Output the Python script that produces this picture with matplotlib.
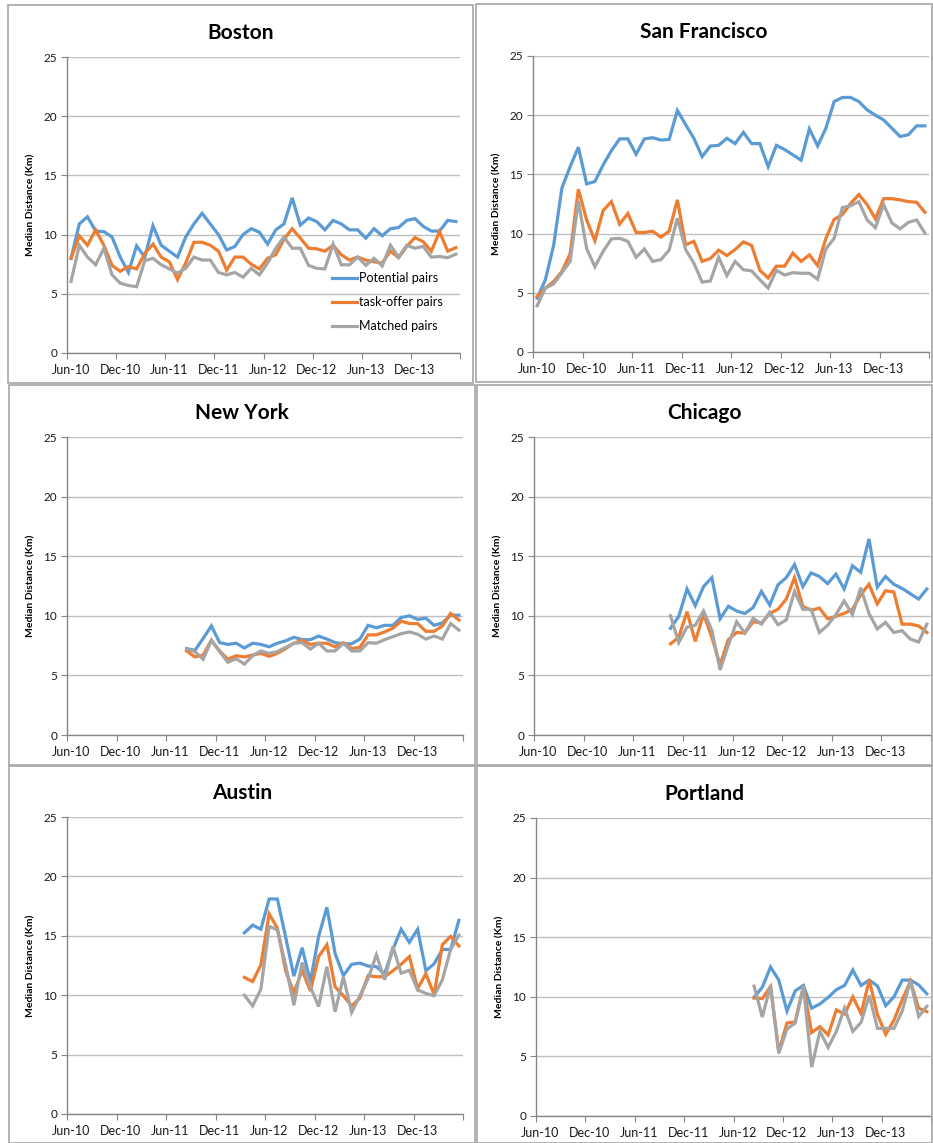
import numpy as np
import matplotlib
matplotlib.use('Agg')
import matplotlib.pyplot as plt
from matplotlib.patches import Rectangle

plt.rcParams['font.family'] = ['Lato', 'DejaVu Sans']

# months Jun-10 .. May-14, one slot per month
n_months = 48
tick_labels = ['Jun-10', 'Dec-10', 'Jun-11', 'Dec-11', 'Jun-12', 'Dec-12', 'Jun-13', 'Dec-13']
series_names = ['Potential pairs', 'task-offer pairs', 'Matched pairs']
colors = ['#5B9BD5', '#ED7D31', '#A5A5A5']

boston_start = 0
boston_potential = [8.0, 10.9, 11.5, 10.3, 10.25, 9.8, 8.1, 6.8, 9.05, 8.1, 10.75, 9.1, 8.6, 8.1, 9.8, 10.9,
                    11.8, 10.9, 10.0, 8.7, 9.0, 10.0, 10.5, 10.2, 9.2, 10.4, 10.9, 13.1, 10.8, 11.4, 11.1, 10.4,
                    11.2, 10.9, 10.4, 10.4, 9.7, 10.5, 9.9, 10.5, 10.6, 11.2, 11.35, 10.7, 10.3, 10.3, 11.2, 11.1]
boston_taskoffer = [8.0, 9.9, 9.1, 10.4, 9.1, 7.4, 6.9, 7.3, 7.1, 8.4, 9.2, 8.1, 7.7, 6.2, 7.6, 9.35,
                    9.35, 9.1, 8.6, 7.0, 8.1, 8.1, 7.5, 7.1, 8.0, 8.3, 9.6, 10.5, 9.7, 8.85, 8.8, 8.6,
                    9.1, 8.3, 7.85, 8.1, 7.85, 7.7, 7.6, 8.6, 8.05, 9.0, 9.75, 9.4, 8.6, 10.25, 8.6, 8.9]
boston_matched = [6.05, 9.1, 8.1, 7.45, 8.85, 6.6, 5.9, 5.7, 5.6, 7.8, 8.0, 7.45, 7.1, 6.75, 7.15, 8.1,
                  7.85, 7.85, 6.8, 6.6, 6.8, 6.4, 7.15, 6.6, 7.6, 8.85, 9.8, 8.85, 8.85, 7.4, 7.15, 7.1,
                  9.2, 7.45, 7.45, 8.1, 7.4, 8.0, 7.35, 9.1, 8.1, 9.1, 8.85, 9.0, 8.1, 8.15, 8.05, 8.35]

sf_start = 0
sf_potential = [4.55, 6.1, 9.0, 13.85, 15.65, 17.3, 14.2, 14.4, 15.8, 17.0, 18.0, 18.0, 16.7, 18.0, 18.1, 17.9,
                17.95, 20.4, 19.2, 18.05, 16.5, 17.4, 17.45, 18.05, 17.6, 18.55, 17.6, 17.6, 15.65, 17.45, 17.1, 16.65,
                16.2, 18.85, 17.4, 18.9, 21.15, 21.5, 21.5, 21.15, 20.45, 20.0, 19.6, 18.9, 18.2, 18.35, 19.1, 19.1]
sf_taskoffer = [4.7, 5.4, 5.95, 6.8, 8.3, 13.75, 11.15, 9.4, 11.95, 12.7, 10.8, 11.7, 10.1, 10.1, 10.2, 9.7,
                10.2, 12.85, 9.05, 9.35, 7.65, 7.9, 8.6, 8.15, 8.65, 9.3, 9.0, 6.9, 6.25, 7.25, 7.25, 8.35,
                7.65, 8.2, 7.3, 9.6, 11.2, 11.6, 12.55, 13.3, 12.45, 11.25, 12.95, 12.95, 12.85, 12.7, 12.65, 11.8]
sf_matched = [3.9, 5.4, 5.75, 6.7, 7.65, 12.75, 8.75, 7.2, 8.5, 9.55, 9.6, 9.35, 8.0, 8.7, 7.65, 7.8,
              8.6, 11.3, 8.65, 7.5, 5.9, 6.0, 8.0, 6.45, 7.65, 6.95, 6.85, 6.1, 5.4, 6.9, 6.5, 6.7,
              6.65, 6.65, 6.15, 8.7, 9.6, 12.2, 12.35, 12.7, 11.15, 10.5, 12.45, 10.9, 10.4, 10.95, 11.15, 10.05]

ny_start = 14
ny_potential = [7.25, 7.1, 8.1, 9.15, 7.75, 7.6, 7.7, 7.3, 7.7, 7.6, 7.4, 7.7, 7.9, 8.2, 8.0, 8.0, 8.3,
                8.05, 7.75, 7.65, 7.65, 8.05, 9.2, 9.0, 9.2, 9.2, 9.85, 10.0, 9.7, 9.8, 9.2, 9.4, 10.05, 10.05]
ny_taskoffer = [7.05, 6.55, 6.7, 7.95, 7.05, 6.35, 6.65, 6.55, 6.7, 6.85, 6.6, 6.85, 7.25, 7.7, 7.95, 7.6, 7.7,
                7.7, 7.4, 7.75, 7.25, 7.35, 8.4, 8.4, 8.65, 8.95, 9.55, 9.35, 9.35, 8.7, 8.7, 9.15, 10.2, 9.65]
ny_matched = [7.2, 7.0, 6.35, 7.95, 7.0, 6.1, 6.4, 5.95, 6.65, 7.05, 6.85, 7.0, 7.35, 7.7, 7.75, 7.2, 7.7,
              7.05, 7.05, 7.7, 7.05, 7.05, 7.75, 7.7, 8.0, 8.25, 8.5, 8.65, 8.45, 8.05, 8.3, 8.05, 9.35, 8.8]

chicago_start = 16
chicago_potential = [8.95, 9.95, 12.25, 10.85, 12.45, 13.2, 9.75, 10.8, 10.4, 10.2, 10.7, 12.05, 10.9, 12.6, 13.2, 14.3,
                     12.45, 13.6, 13.3, 12.7, 13.5, 12.25, 14.2, 13.65, 16.45, 12.4, 13.3, 12.65, 12.3, 11.85, 11.4, 12.25]
chicago_taskoffer = [7.65, 8.2, 10.35, 7.85, 10.15, 8.2, 5.9, 8.0, 8.6, 8.55, 9.5, 9.4, 10.2, 10.55, 11.4, 13.2,
                     10.8, 10.45, 10.65, 9.75, 9.95, 10.2, 10.55, 11.75, 12.65, 11.0, 12.1, 12.0, 9.3, 9.3, 9.15, 8.6]
chicago_matched = [10.0, 7.75, 9.05, 9.2, 10.4, 8.8, 5.45, 7.55, 9.5, 8.55, 9.8, 9.3, 10.3, 9.25, 9.65, 12.05,
                   10.55, 10.55, 8.6, 9.2, 10.1, 11.25, 10.1, 12.35, 10.2, 8.9, 9.45, 8.6, 8.75, 8.05, 7.8, 9.3]

austin_start = 21
austin_potential = [15.25, 15.9, 15.55, 18.1, 18.1, 14.9, 11.6, 14.0, 11.15, 14.95, 17.4, 13.5, 11.65, 12.6,
                    12.7, 12.45, 12.4, 11.8, 13.85, 15.55, 14.45, 15.55, 12.05, 12.65, 13.85, 13.85, 16.3]
austin_taskoffer = [11.5, 11.15, 12.55, 16.85, 15.65, 12.05, 10.2, 12.1, 10.35, 13.25, 14.25, 10.7, 9.95, 9.1,
                    9.75, 11.65, 11.55, 11.55, 12.05, 12.6, 13.25, 10.55, 11.8, 10.05, 14.25, 14.95, 14.15]
austin_matched = [10.0, 9.1, 10.5, 15.8, 15.5, 12.55, 9.15, 12.75, 10.7, 9.05, 12.4, 8.6, 11.55, 8.55,
                  9.95, 11.4, 13.4, 11.3, 14.1, 11.85, 12.1, 10.45, 10.15, 9.95, 11.3, 13.85, 15.05]

portland_start = 26
portland_potential = [9.95, 10.8, 12.5, 11.4, 8.8, 10.5, 10.95, 9.05, 9.4, 9.95, 10.6,
                      10.95, 12.25, 10.95, 11.4, 10.9, 9.25, 10.0, 11.4, 11.4, 11.0, 10.25]
portland_taskoffer = [9.9, 9.85, 10.85, 5.4, 7.8, 7.9, 10.9, 7.0, 7.5, 6.8, 8.9,
                      8.55, 10.0, 8.6, 11.4, 8.5, 6.85, 8.05, 9.75, 11.3, 9.05, 8.75]
portland_matched = [10.9, 8.3, 10.95, 5.25, 7.3, 7.8, 10.9, 4.1, 7.1, 5.75, 7.1,
                    9.05, 7.1, 7.85, 10.1, 7.35, 7.35, 7.35, 8.8, 11.35, 8.35, 9.2]

cities = [
    ('Boston', boston_start, [boston_potential, boston_taskoffer, boston_matched]),
    ('San Francisco', sf_start, [sf_potential, sf_taskoffer, sf_matched]),
    ('New York', ny_start, [ny_potential, ny_taskoffer, ny_matched]),
    ('Chicago', chicago_start, [chicago_potential, chicago_taskoffer, chicago_matched]),
    ('Austin', austin_start, [austin_potential, austin_taskoffer, austin_matched]),
    ('Portland', portland_start, [portland_potential, portland_taskoffer, portland_matched]),
]

W, H = 933, 1143
fig = plt.figure(figsize=(W / 100, H / 100), dpi=100)

# pixel boxes: (panel left, top, right, bottom), (axes left, top, right, bottom)
panel_boxes = [(8, 5, 473, 383), (476, 4, 932, 382),
               (9, 385, 475, 765), (477, 385, 932, 765),
               (9, 766, 475, 1143), (477, 766, 932, 1143)]
axes_boxes = [(67, 57, 460, 353), (533, 56, 929, 352),
              (67, 437, 463, 735), (534, 437, 931, 735),
              (67, 817, 463, 1114), (536, 818, 931, 1116)]

grid_col = '#BFBFBF'
axis_col = '#868686'

for (name, start, series), pbox, abox in zip(cities, panel_boxes, axes_boxes):
    pl, pt, pr, pb = pbox
    fig.add_artist(Rectangle((pl / W, 1 - pb / H), (pr - pl) / W, (pb - pt) / H,
                             transform=fig.transFigure, fill=False,
                             edgecolor='#A6A6A6', linewidth=1.2))
    al, at, ar, ab = abox
    ax = fig.add_axes([al / W, 1 - ab / H, (ar - al) / W, (ab - at) / H])

    for vals, label, c in zip(series, series_names, colors):
        x = start + np.arange(len(vals))
        ax.plot(x, vals, color=c, linewidth=2.3, label=label, solid_joinstyle='miter')

    ax.set_xlim(-0.5, n_months - 0.5)
    ax.set_ylim(0, 25)
    ax.set_yticks(np.arange(0, 26, 5))
    ax.yaxis.grid(True, color=grid_col, linewidth=1.0)
    ax.set_axisbelow(True)

    # tick marks on the month-slot boundaries, labels centred on the slot
    ax.set_xticks(np.arange(-0.5, n_months, 6))
    ax.set_xticklabels([])
    ax.set_xticks(np.arange(0, n_months - 1, 6), minor=True)
    ax.set_xticklabels(tick_labels, minor=True)
    ax.tick_params(axis='x', which='major', length=4, color=axis_col, direction='out')
    ax.tick_params(axis='x', which='minor', length=0, labelsize=9, pad=8, colors='#1a1a1a')
    ax.tick_params(axis='y', length=4, color=axis_col, labelsize=8.5, colors='#1a1a1a', pad=3)

    for side in ['top', 'right']:
        ax.spines[side].set_visible(False)
    for side in ['left', 'bottom']:
        ax.spines[side].set_color(axis_col)
        ax.spines[side].set_linewidth(1.0)

    ax.set_ylabel('Median Distance (Km)', fontsize=7.5, fontweight='bold', labelpad=6)
    # title is centred on the panel frame, not on the plot area
    title_x = ((pl + pr) / 2 - al) / (ar - al)
    ax.set_title(name, fontsize=15, fontweight='bold', pad=13, x=title_x)

    if name == 'Boston':
        ax.legend(loc='center left', bbox_to_anchor=(0.675, 0.172), frameon=False,
                  fontsize=9, handlelength=2.0, handletextpad=0.1,
                  labelspacing=0.95, borderpad=0, borderaxespad=0)

fig.savefig('out.png', dpi=100)
